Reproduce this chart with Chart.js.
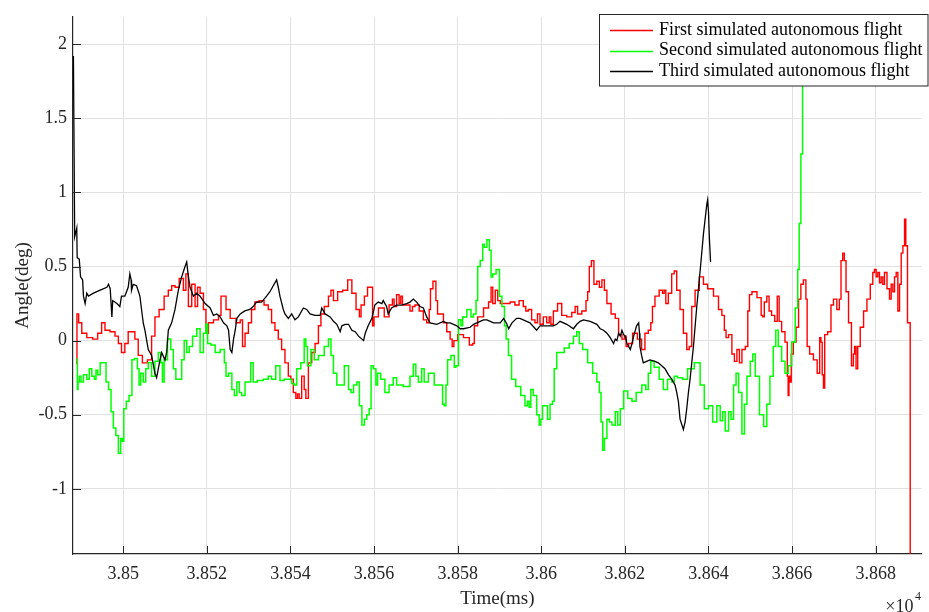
<!DOCTYPE html>
<html>
<head>
<meta charset="utf-8">
<title>Simulated autonomous flights – angle vs time</title>
<script src="https://cdn.jsdelivr.net/npm/chart.js@4/dist/chart.umd.min.js"></script>
<style>
  html, body { margin: 0; padding: 0; background: #ffffff; }
  #wrap { width: 929px; height: 612px; }
  canvas { display: block; }
</style>
</head>
<body>
<div id="wrap"><canvas id="c" width="929" height="612"></canvas></div>
<script>
// ---- series names -------------------------------------------------------
const seriesNames = [
  'First simulated autonomous flight',
  'Second simulated autonomous flight',
  'Third simulated autonomous flight'
];

// ---- first flight: time (ms) and angle (deg) ----------------------------
const firstTime = [
  38488.9,38489.0,38489.7,38490.5,38492.1,38493.3,38494.5,38495.2,38496.1,38497.6,
  38498.5,38499.2,38500.0,38500.8,38501.6,38502.4,38503.2,38504.0,38505.2,38506.4,
  38507.2,38508.0,38509.2,38510.4,38511.2,38512.0,38512.8,38514.0,38514.8,38515.2,
  38516.0,38516.8,38517.6,38518.0,38518.8,38519.6,38520.0,38520.8,38522.4,38523.2,
  38523.6,38524.4,38524.8,38526.4,38527.6,38528.4,38528.7,38529.6,38530.3,38531.1,
  38531.9,38533.1,38534.3,38535.1,38535.9,38536.7,38537.5,38538.3,38539.1,38539.9,
  38540.3,38541.1,38541.5,38541.9,38542.3,38543.1,38543.5,38543.9,38544.7,38545.5,
  38546.3,38547.1,38547.5,38548.7,38549.5,38549.9,38550.7,38551.9,38553.1,38554.3,
  38555.1,38556.3,38556.7,38557.1,38558.3,38558.6,38559.5,38559.8,38560.2,38561.9,
  38563.0,38564.2,38564.6,38565.0,38565.8,38566.2,38566.6,38567.0,38568.2,38569.0,
  38569.4,38570.2,38571.4,38572.2,38573.0,38573.4,38573.6,38574.6,38575.0,38575.4,
  38576.2,38577.0,38577.8,38578.6,38578.8,38579.4,38580.6,38582.2,38583.4,38583.8,
  38584.2,38585.4,38587.0,38587.8,38588.2,38588.6,38589.4,38589.8,38590.6,38591.8,
  38593.3,38594.1,38595.3,38596.1,38596.5,38597.3,38598.1,38598.9,38599.3,38600.1,
  38600.9,38601.7,38602.1,38602.5,38603.3,38604.5,38605.3,38606.9,38607.7,38608.5,
  38608.9,38610.5,38610.9,38611.3,38611.7,38612.3,38612.9,38613.7,38614.1,38614.9,
  38615.3,38616.1,38617.3,38618.1,38618.9,38619.7,38620.1,38620.5,38621.3,38622.4,
  38623.6,38624.4,38625.2,38626.0,38626.4,38626.8,38627.6,38628.8,38629.2,38629.6,
  38630.0,38630.8,38631.6,38632.0,38632.8,38633.6,38634.4,38635.2,38635.6,38636.4,
  38637.2,38638.4,38639.2,38640.4,38642.0,38642.8,38643.6,38644.0,38644.4,38645.2,
  38646.0,38646.4,38647.2,38647.6,38648.4,38649.2,38649.6,38650.0,38650.8,38652.4,
  38652.8,38653.1,38653.6,38654.3,38654.7,38655.5,38656.2,38656.7,38657.1,38657.9,
  38658.7,38659.0,38659.1,38659.4,38659.7,38659.9,38660.7,38661.2,38661.9,38662.3,
  38663.1,38663.5,38663.7,38664.7,38665.5,38666.5,38666.7,38667.1,38667.3,38667.7,
  38667.9,38669.1,38669.5,38670.3,38671.1,38671.5,38671.9,38672.3,38672.7,38673.1,
  38673.9,38674.5,38674.8,38675.1,38675.5,38675.9,38676.7,38677.5,38678.3,38679.1,
  38679.5,38679.9,38680.3,38680.7,38681.1,38681.5,38681.9,38682.3,38683.1,38683.5,
  38683.9,38684.3,38684.7,38685.1,38685.5,38685.9,38686.3,38686.7,38687.1,38687.3,
  38687.9,38688.6
];
const firstAngle = [
  -0.16,0.18,0.12,0.05,0.02,0.01,0.05,0.12,0.07,0.06,
  0.03,-0.02,-0.08,-0.02,0.06,0.06,0.01,-0.10,-0.15,-0.13,
  0.03,0.16,0.21,0.30,0.34,0.37,0.36,0.42,0.34,0.45,
  0.23,0.38,0.23,0.36,0.32,0.21,0.05,0.12,0.14,0.17,
  0.30,0.30,0.21,0.15,0.12,0.14,-0.04,0.05,0.12,0.21,
  0.26,0.27,0.24,0.21,0.12,0.07,0.01,-0.06,-0.15,-0.24,
  -0.26,-0.35,-0.39,-0.36,-0.39,-0.24,-0.33,-0.39,-0.15,-0.08,
  -0.02,0.10,0.18,0.23,0.30,0.34,0.27,0.33,0.34,0.41,
  0.32,0.21,0.16,0.24,0.30,0.36,0.36,0.10,0.16,0.22,
  0.16,0.24,0.28,0.23,0.31,0.25,0.30,0.24,0.24,0.20,
  0.23,0.24,0.20,0.14,0.12,0.21,0.35,0.40,0.27,0.18,
  0.18,0.12,0.06,0.01,-0.04,0.00,0.04,0.02,-0.03,-0.02,
  0.10,0.16,0.22,0.26,0.36,0.25,0.34,0.27,0.25,0.25,
  0.26,0.24,0.27,0.23,0.20,0.21,0.14,0.12,0.18,0.11,
  0.16,0.12,0.16,0.11,0.20,0.25,0.17,0.16,0.19,0.23,
  0.18,0.20,0.27,0.33,0.50,0.54,0.38,0.40,0.36,0.41,
  0.34,0.25,0.18,0.15,0.04,0.01,0.03,-0.04,-0.02,0.05,
  0.01,-0.06,0.05,0.07,0.12,0.23,0.30,0.34,0.32,0.34,
  0.25,0.32,0.45,0.47,0.34,0.21,0.05,-0.06,-0.04,0.23,
  0.34,0.43,0.38,0.35,0.30,0.21,0.17,0.07,0.02,0.04,
  -0.09,-0.14,-0.06,-0.15,-0.06,-0.04,0.20,0.31,0.33,0.29,
  0.17,0.16,0.26,0.30,0.20,0.17,0.13,0.30,0.13,0.06,
  -0.01,-0.24,-0.37,-0.24,-0.28,-0.09,-0.01,0.09,0.28,0.38,
  0.41,0.28,-0.04,-0.09,-0.13,-0.22,0.02,-0.01,-0.23,-0.32,
  0.04,0.06,0.24,0.28,0.21,0.28,0.54,0.59,0.54,0.33,
  0.12,-0.17,-0.09,-0.04,-0.19,-0.04,0.09,0.20,0.28,0.38,
  0.46,0.48,0.43,0.46,0.39,0.43,0.38,0.46,0.35,0.28,
  0.38,0.33,0.43,0.46,0.20,0.38,0.59,0.64,0.82,0.64,
  0.12,-1.90
];

// ---- second flight ------------------------------------------------------
const secondTime = [
  38489.0,38489.1,38489.3,38489.7,38490.1,38490.9,38491.7,38492.1,38492.9,38493.3,
  38493.7,38494.1,38494.9,38495.7,38496.1,38496.9,38497.3,38498.0,38498.5,38499.2,
  38499.6,38500.0,38500.3,38501.2,38501.6,38502.0,38502.2,38503.2,38503.6,38504.0,
  38504.4,38505.2,38505.6,38506.4,38507.2,38508.0,38508.8,38509.2,38509.6,38510.0,
  38511.2,38511.6,38512.4,38512.8,38513.6,38514.4,38514.8,38515.6,38516.0,38517.2,
  38518.0,38518.8,38519.6,38520.0,38520.4,38521.6,38522.4,38524.0,38524.4,38524.8,
  38525.6,38526.4,38526.8,38527.6,38528.0,38528.7,38529.6,38530.3,38530.7,38531.5,
  38532.7,38534.3,38535.1,38535.9,38537.1,38537.9,38539.1,38539.9,38540.7,38541.1,
  38541.9,38543.1,38543.5,38543.9,38544.3,38545.5,38545.9,38547.5,38548.7,38549.5,
  38549.9,38550.7,38551.5,38552.7,38553.1,38553.5,38554.3,38554.7,38555.5,38556.3,
  38556.7,38557.5,38557.9,38558.6,38559.1,38559.5,38560.2,38560.7,38561.0,38562.2,
  38563.0,38564.2,38565.0,38565.8,38568.2,38569.0,38569.8,38570.2,38571.0,38571.8,
  38572.2,38573.8,38575.0,38576.2,38576.6,38577.0,38577.4,38577.8,38579.0,38579.4,
  38579.8,38580.6,38581.0,38581.4,38583.0,38583.4,38584.2,38584.6,38585.0,38585.8,
  38586.2,38586.6,38587.4,38587.8,38588.2,38588.6,38589.8,38590.2,38591.0,38591.4,
  38591.8,38592.5,38593.3,38594.5,38595.7,38596.5,38596.9,38597.3,38597.7,38598.5,
  38599.3,38599.7,38600.1,38600.5,38601.3,38601.7,38602.5,38602.9,38603.3,38604.1,
  38604.9,38606.1,38607.3,38608.1,38608.9,38609.3,38610.5,38611.7,38612.9,38613.7,
  38614.1,38614.5,38614.9,38615.3,38616.1,38616.5,38617.3,38618.1,38618.5,38619.3,
  38620.1,38621.3,38622.1,38623.3,38624.8,38625.2,38626.0,38626.4,38627.6,38628.8,
  38629.6,38630.8,38631.6,38632.0,38633.2,38634.4,38635.6,38637.6,38638.4,38639.6,
  38640.4,38641.6,38642.4,38643.2,38643.6,38644.4,38645.2,38645.6,38646.4,38646.8,
  38647.6,38648.4,38648.8,38649.6,38650.4,38650.8,38651.6,38652.8,38653.6,38654.3,
  38655.1,38655.9,38656.3,38657.1,38657.9,38658.7,38659.5,38660.3,38661.2,38661.5,
  38661.9,38662.3,38662.7,38663.1,38663.3
];
const secondAngle = [
  -0.12,-0.33,-0.28,-0.24,-0.28,-0.23,-0.26,-0.19,-0.24,-0.26,
  -0.20,-0.23,-0.15,-0.15,-0.28,-0.33,-0.48,-0.59,-0.64,-0.76,
  -0.66,-0.68,-0.46,-0.41,-0.37,-0.37,-0.13,-0.12,-0.19,-0.30,
  -0.22,-0.28,-0.19,-0.15,-0.24,-0.14,-0.08,-0.15,-0.28,-0.13,
  0.01,-0.06,-0.19,-0.26,-0.26,-0.13,0.00,-0.08,-0.04,0.03,
  0.08,-0.08,0.05,0.11,-0.02,-0.03,-0.08,-0.06,-0.15,-0.24,
  -0.22,-0.33,-0.37,-0.28,-0.35,-0.37,-0.28,-0.28,-0.15,-0.28,
  -0.27,-0.26,-0.24,-0.26,-0.17,-0.27,-0.26,-0.26,-0.29,-0.30,
  -0.19,-0.15,0.01,-0.04,-0.17,-0.06,-0.13,-0.10,-0.04,0.01,
  -0.10,-0.22,-0.30,-0.30,-0.17,-0.17,-0.33,-0.35,-0.30,-0.28,
  -0.44,-0.57,-0.53,-0.50,-0.46,-0.17,-0.19,-0.30,-0.22,-0.26,
  -0.35,-0.30,-0.25,-0.30,-0.31,-0.24,-0.16,-0.24,-0.28,-0.19,
  -0.28,-0.22,-0.30,-0.30,-0.43,-0.44,-0.30,-0.13,-0.10,-0.18,
  -0.17,0.14,0.10,0.16,0.21,0.16,0.18,0.27,0.50,0.54,
  0.65,0.63,0.68,0.61,0.43,0.45,0.48,0.30,0.23,0.10,
  0.01,-0.10,-0.26,-0.31,-0.37,-0.44,-0.41,-0.45,-0.33,-0.37,
  -0.50,-0.57,-0.53,-0.44,-0.44,-0.53,-0.43,-0.41,-0.19,-0.08,
  -0.08,-0.05,-0.02,0.03,0.06,-0.02,-0.06,-0.15,-0.22,-0.28,
  -0.35,-0.55,-0.74,-0.66,-0.53,-0.55,-0.57,-0.48,-0.57,-0.46,
  -0.34,-0.39,-0.41,-0.35,-0.30,-0.33,-0.22,-0.14,-0.18,-0.26,
  -0.33,-0.26,-0.28,-0.24,-0.25,-0.26,-0.19,-0.15,-0.30,-0.46,
  -0.44,-0.55,-0.44,-0.54,-0.48,-0.61,-0.48,-0.53,-0.30,-0.22,
  -0.35,-0.63,-0.43,-0.24,-0.14,-0.09,-0.24,-0.50,-0.58,-0.43,
  -0.24,-0.04,0.07,-0.04,-0.14,-0.22,-0.17,-0.01,0.22,0.48,
  0.79,1.26,1.73,2.17,2.50
];

// ---- third flight -------------------------------------------------------
const thirdTime = [
  38488.1,38488.4,38488.9,38489.0,38489.5,38489.8,38490.3,38490.5,38490.9,38491.3,
  38491.7,38492.9,38494.5,38496.1,38496.5,38496.9,38497.3,38497.5,38498.5,38499.2,
  38499.6,38500.4,38501.2,38501.6,38501.9,38502.0,38502.4,38503.2,38504.0,38504.4,
  38504.8,38505.2,38506.0,38506.8,38507.6,38508.0,38508.4,38508.8,38509.2,38510.0,
  38510.4,38510.8,38511.6,38512.4,38513.2,38514.0,38514.8,38515.2,38515.6,38516.0,
  38516.8,38517.6,38518.4,38519.6,38520.8,38521.6,38522.4,38523.2,38524.0,38524.8,
  38525.2,38525.6,38526.0,38526.4,38526.8,38527.2,38528.0,38529.1,38530.3,38531.1,
  38531.9,38533.1,38534.3,38535.1,38535.9,38536.7,38537.1,38537.5,38538.3,38538.7,
  38539.5,38540.3,38541.1,38541.9,38542.7,38543.1,38543.9,38544.7,38545.9,38547.1,
  38547.5,38548.3,38549.5,38550.3,38551.1,38551.9,38552.3,38553.1,38553.9,38554.7,
  38555.5,38556.3,38557.1,38557.5,38557.9,38558.6,38559.5,38560.2,38561.0,38561.9,
  38562.2,38563.0,38563.4,38564.2,38565.4,38566.6,38567.8,38568.6,38569.4,38570.2,
  38571.0,38571.8,38572.6,38573.4,38575.0,38576.6,38577.4,38578.2,38579.0,38579.8,
  38580.6,38581.4,38583.0,38583.8,38585.4,38586.2,38587.0,38588.6,38590.2,38591.0,
  38591.8,38592.2,38593.0,38594.1,38594.9,38596.5,38597.3,38598.9,38599.7,38601.3,
  38602.9,38603.7,38604.5,38606.1,38607.7,38608.5,38609.3,38610.1,38611.7,38613.3,
  38614.1,38614.9,38615.7,38616.5,38617.3,38617.7,38618.1,38618.5,38618.9,38619.3,
  38619.7,38620.1,38620.5,38620.9,38621.3,38621.7,38622.1,38622.8,38623.3,38623.5,
  38623.6,38624.0,38624.4,38625.2,38626.0,38627.2,38628.0,38628.8,38629.6,38630.4,
  38631.2,38632.0,38632.4,38632.8,38633.2,38634.0,38634.4,38634.8,38635.2,38635.6,
  38636.4,38637.2,38638.0,38638.8,38639.6,38639.8,38640.0,38640.2,38640.5
];
const thirdAngle = [
  1.92,0.70,0.76,0.56,0.55,0.43,0.41,0.30,0.25,0.32,
  0.30,0.32,0.34,0.36,0.38,0.35,0.16,0.27,0.25,0.23,
  0.30,0.30,0.36,0.45,0.41,0.34,0.38,0.37,0.30,0.21,
  0.12,0.07,-0.06,-0.10,-0.22,-0.25,-0.19,-0.13,-0.08,-0.13,
  -0.08,0.07,0.12,0.21,0.34,0.43,0.50,0.53,0.43,0.36,
  0.30,0.32,0.30,0.25,0.22,0.17,0.18,0.16,0.12,0.10,
  0.07,-0.06,-0.08,0.01,0.07,0.15,0.18,0.20,0.21,0.23,
  0.26,0.26,0.30,0.33,0.37,0.41,0.36,0.30,0.21,0.18,
  0.15,0.18,0.14,0.16,0.20,0.22,0.21,0.18,0.17,0.17,
  0.22,0.18,0.16,0.13,0.11,0.06,0.10,0.11,0.11,0.07,
  0.06,0.03,0.01,0.00,0.05,0.10,0.15,0.24,0.26,0.25,
  0.27,0.23,0.18,0.22,0.24,0.24,0.25,0.26,0.28,0.26,
  0.23,0.22,0.16,0.12,0.11,0.13,0.12,0.12,0.11,0.10,
  0.08,0.08,0.09,0.11,0.13,0.14,0.14,0.12,0.12,0.15,
  0.11,0.08,0.12,0.15,0.15,0.13,0.12,0.07,0.10,0.10,
  0.10,0.11,0.13,0.11,0.08,0.11,0.13,0.14,0.13,0.11,
  0.08,0.07,0.05,0.02,-0.02,0.01,0.00,0.05,0.03,0.07,
  0.04,0.03,-0.02,-0.04,-0.06,-0.02,0.03,0.10,0.12,0.05,
  -0.04,-0.10,-0.15,-0.14,-0.13,-0.14,-0.15,-0.17,-0.19,-0.23,
  -0.26,-0.30,-0.35,-0.41,-0.53,-0.60,-0.55,-0.46,-0.35,-0.26,
  -0.04,0.23,0.47,0.72,0.92,0.95,0.87,0.70,0.53
];

const seriesColors = ['#ff0000', '#00ff00', '#000000'];

// ---- axis ticks (time axis is labelled in units of 10^4 ms) -------------
const xTickValues = [38500,38520,38540,38560,38580,38600,38620,38640,38660,38680];
const xTickLabels = ['3.85','3.852','3.854','3.856','3.858','3.86','3.862','3.864','3.866','3.868'];
const yTickValues = [-1,-0.5,0,0.5,1,1.5,2];
const yTickLabels = ['-1','-0.5','0','0.5','1','1.5','2'];

const SERIF = "'Liberation Serif', 'Times New Roman', Times, serif";
const AXIS_COLOR = '#262626';

function toPoints(times, values) {
  return times.map((t, i) => ({ x: t, y: values[i] }));
}

// Inward tick marks, boxed legend and the x10^4 exponent label.
const decorations = {
  id: 'decorations',
  afterDatasetsDraw(chart) {
    const { ctx, chartArea: a, scales: { x, y } } = chart;
    ctx.save();
    ctx.strokeStyle = AXIS_COLOR;
    ctx.lineWidth = 1;
    ctx.beginPath();
    xTickValues.forEach(v => {
      const px = Math.round(x.getPixelForValue(v)) + 0.5;
      ctx.moveTo(px, a.bottom);
      ctx.lineTo(px, a.bottom - 8);
    });
    yTickValues.forEach(v => {
      const py = Math.round(y.getPixelForValue(v)) + 0.5;
      ctx.moveTo(a.left, py);
      ctx.lineTo(a.left + 8, py);
    });
    ctx.stroke();
    ctx.restore();
  },
  afterDraw(chart) {
    const { ctx } = chart;
    ctx.save();

    // legend box
    const box = { x: 599.5, y: 14.5, w: 328.5, h: 71.5 };
    const rowY = [29.9, 50.6, 71.3];
    ctx.fillStyle = '#ffffff';
    ctx.fillRect(box.x, box.y, box.w, box.h);
    ctx.strokeStyle = AXIS_COLOR;
    ctx.lineWidth = 1;
    ctx.strokeRect(box.x, box.y, box.w, box.h);
    ctx.font = `18px ${SERIF}`;
    ctx.textAlign = 'left';
    ctx.textBaseline = 'middle';
    chart.data.datasets.forEach((ds, i) => {
      ctx.strokeStyle = ds.borderColor;
      ctx.lineWidth = 1.3;
      ctx.beginPath();
      ctx.moveTo(610, Math.round(rowY[i]) + 0.5);
      ctx.lineTo(653, Math.round(rowY[i]) + 0.5);
      ctx.stroke();
      ctx.fillStyle = '#000000';
      ctx.fillText(ds.label, 659, rowY[i]);
    });

    // exponent of the time axis
    ctx.fillStyle = AXIS_COLOR;
    ctx.textBaseline = 'alphabetic';
    ctx.textAlign = 'right';
    ctx.font = `18px ${SERIF}`;
    ctx.fillText('\u00d710', 913.5, 611.5);
    ctx.textAlign = 'left';
    ctx.font = `12px ${SERIF}`;
    ctx.fillText('4', 915, 599.8);
    ctx.restore();
  }
};

new Chart(document.getElementById('c'), {
  type: 'line',
  data: {
    datasets: [
      { label: seriesNames[0], data: toPoints(firstTime, firstAngle), borderColor: seriesColors[0], order: 3, stepped: 'middle', borderWidth: 1.4 },
      { label: seriesNames[1], data: toPoints(secondTime, secondAngle), borderColor: seriesColors[1], order: 2, stepped: 'middle', borderWidth: 1.5 },
      { label: seriesNames[2], data: toPoints(thirdTime, thirdAngle), borderColor: seriesColors[2], order: 1, borderWidth: 1.3 }
    ]
  },
  options: {
    responsive: false,
    animation: false,
    devicePixelRatio: 1,
    parsing: false,
    datasets: {
      line: { pointRadius: 0, tension: 0, fill: false, borderJoinStyle: 'miter' }
    },
    layout: { padding: { left: 0, right: 7.3, top: 9.5, bottom: 0 } },
    plugins: {
      legend: { display: false },
      tooltip: { enabled: false }
    },
    scales: {
      x: {
        type: 'linear',
        position: 'bottom',
        min: 38488,
        max: 38691,
        afterBuildTicks: s => { s.ticks = xTickValues.map(v => ({ value: v })); },
        afterFit: s => { s.height = 58; },
        grid: { color: '#e1e1e1', lineWidth: 1, drawTicks: false },
        border: { display: true, color: AXIS_COLOR, width: 1.2 },
        ticks: {
          autoSkip: false, maxRotation: 0, padding: 9,
          color: AXIS_COLOR, font: { family: SERIF, size: 18 },
          callback: v => xTickLabels[xTickValues.indexOf(v)]
        },
        title: {
          display: true, text: 'Time(ms)', color: AXIS_COLOR,
          font: { family: SERIF, size: 19 }, padding: { top: 0, bottom: 2 }
        }
      },
      y: {
        type: 'linear',
        position: 'left',
        min: -1.44,
        max: 2.185,
        afterBuildTicks: s => { s.ticks = yTickValues.map(v => ({ value: v })); },
        afterFit: s => { s.width = 73; },
        grid: { color: '#e1e1e1', lineWidth: 1, drawTicks: false },
        border: { display: true, color: AXIS_COLOR, width: 1.2 },
        ticks: {
          autoSkip: false, padding: 6,
          color: AXIS_COLOR, font: { family: SERIF, size: 18 },
          callback: v => yTickLabels[yTickValues.indexOf(v)]
        },
        title: {
          display: true, text: 'Angle(deg)', color: AXIS_COLOR,
          font: { family: SERIF, size: 19 }, padding: { top: 11.2, bottom: 0 }
        }
      }
    }
  },
  plugins: [decorations]
});
</script>
</body>
</html>
